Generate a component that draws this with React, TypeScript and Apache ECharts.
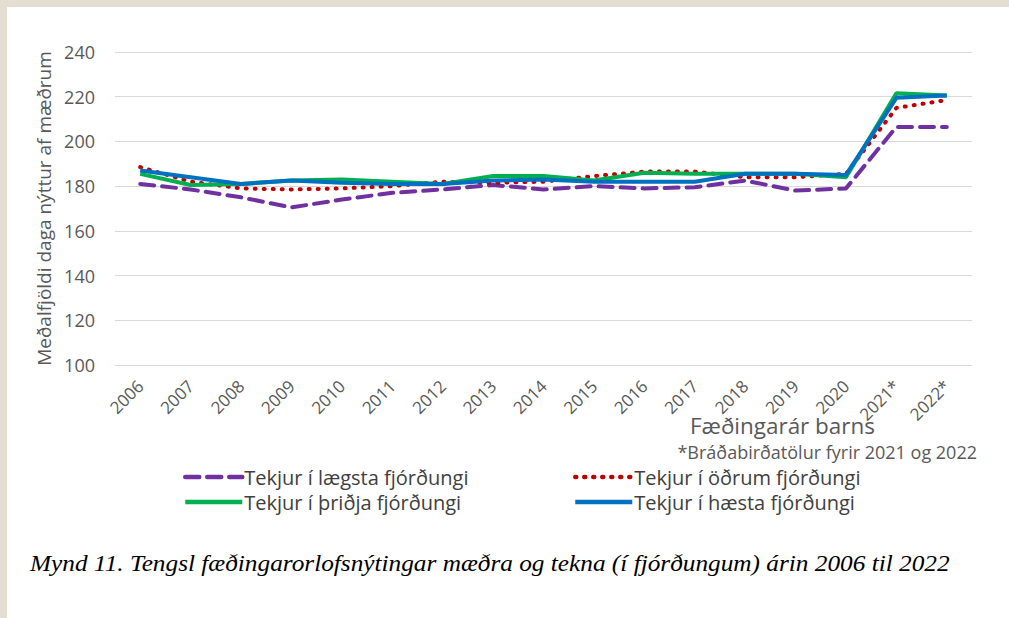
import React, { useEffect, useRef } from "react";
import * as echarts from "echarts";

const years = ["2006","2007","2008","2009","2010","2011","2012","2013","2014","2015","2016","2017","2018","2019","2020","2021*","2022*"];
const lowest = [181, 178.5, 175, 170.5, 174, 177, 178.5, 180.5, 178.5, 180, 179, 179.5, 182.5, 178, 179, 206.5, 206.5];
const second = [188.5, 182, 179, 178.5, 179, 180, 182, 181.5, 182, 184.5, 186.5, 186.5, 184, 184, 185.5, 215, 218.5];
const third = [185.5, 180.5, 181, 182.5, 183, 182, 181, 184.5, 184.5, 182.5, 186, 185.5, 185.5, 185.5, 184, 221.5, 220.5];
const highest = [187, 184, 181, 182.5, 181.5, 181, 181, 182.5, 183, 182, 182, 182, 185.5, 185.5, 185, 219.5, 220.5];
const seriesNames = ["Tekjur í lægsta fjórðungi", "Tekjur í öðrum fjórðungi", "Tekjur í þriðja fjórðungi", "Tekjur í hæsta fjórðungi"];

const FONT = "Open Sans";

export default function App() {
  const ref = useRef<HTMLDivElement>(null);
  useEffect(() => {
    document.body.style.margin = "0";
    const chart = echarts.init(ref.current!, null, { renderer: "svg" });
    const legendBase = {
      itemWidth: 57,
      itemHeight: 14,
      padding: 0,
      itemStyle: { opacity: 0 },
      lineStyle: { width: 4.5 },
      textStyle: { fontFamily: FONT, fontSize: 20, lineHeight: 24, color: "#404040", padding: [0, 0, 0, -3] },
    };
    chart.setOption({
      animation: false,
      backgroundColor: "#ffffff",
      grid: { left: 115, right: 37, top: 52, bottom: 253, containLabel: false },
      xAxis: {
        type: "category",
        data: years,
        boundaryGap: true,
        axisLine: { show: true, lineStyle: { color: "#d9d9d9", width: 1 } },
        axisTick: { show: false },
        axisLabel: { rotate: 45, fontFamily: FONT, fontSize: 17, color: "#595959", margin: 18, interval: 0 },
      },
      yAxis: {
        type: "value",
        min: 100,
        max: 240,
        interval: 20,
        name: "Meðalfjöldi daga nýttur af mæðrum",
        nameLocation: "middle",
        nameGap: 62,
        nameTextStyle: { fontFamily: FONT, fontSize: 19, color: "#595959" },
        axisLine: { show: false },
        axisTick: { show: false },
        axisLabel: { fontFamily: FONT, fontSize: 18, color: "#595959", margin: 20 },
        splitLine: { lineStyle: { color: "#d9d9d9", width: 1 } },
      },
      legend: [
        { ...legendBase, data: [seriesNames[0]], left: 183, top: 465 },
        { ...legendBase, data: [seriesNames[1]], left: 573, top: 465 },
        { ...legendBase, data: [seriesNames[2]], left: 183, top: 490 },
        { ...legendBase, data: [seriesNames[3]], left: 573, top: 490 },
      ],
      series: [
        {
          name: seriesNames[0], type: "line", data: lowest, symbol: "none",
          lineStyle: { color: "#7030a0", width: 4, type: [14, 8], cap: "round" },
          itemStyle: { color: "#7030a0" },
        },
        {
          name: seriesNames[1], type: "line", data: second, symbol: "none",
          lineStyle: { color: "#c00000", width: 4, type: [1, 8], cap: "round" },
          itemStyle: { color: "#c00000" },
        },
        {
          name: seriesNames[2], type: "line", data: third, symbol: "none",
          lineStyle: { color: "#00b050", width: 4 },
          itemStyle: { color: "#00b050" },
        },
        {
          name: seriesNames[3], type: "line", data: highest, symbol: "none",
          lineStyle: { color: "#0070c0", width: 4 },
          itemStyle: { color: "#0070c0" },
        },
      ],
      graphic: [
        { type: "rect", shape: { x: 0, y: 0, width: 1009, height: 7 }, style: { fill: "#e4ddd2" }, silent: true },
        { type: "rect", shape: { x: 0, y: 0, width: 7, height: 618 }, style: { fill: "#e4ddd2" }, silent: true },
        {
          type: "text", x: 875, y: 426, scaleX: 1.07,
          style: { text: "Fæðingarár barns", fontFamily: FONT, fontSize: 21, fill: "#595959", textAlign: "right", textVerticalAlign: "middle" },
        },
        {
          type: "text", x: 977, y: 452,
          style: { text: "*Bráðabirðatölur fyrir 2021 og 2022", fontFamily: FONT, fontSize: 18, fill: "#595959", textAlign: "right", textVerticalAlign: "middle" },
        },
        {
          type: "text", x: 30, y: 563, scaleX: 1.1,
          style: { text: "Mynd 11. Tengsl fæðingarorlofsnýtingar mæðra og tekna (í fjórðungum) árin 2006 til 2022", fontFamily: "Liberation Serif", fontStyle: "italic", fontSize: 23, fill: "#000000", textAlign: "left", textVerticalAlign: "middle" },
        },
      ],
    });
    return () => chart.dispose();
  }, []);
  return <div ref={ref} style={{ width: 1009, height: 618, position: "absolute", left: 0, top: 0 }} />;
}
